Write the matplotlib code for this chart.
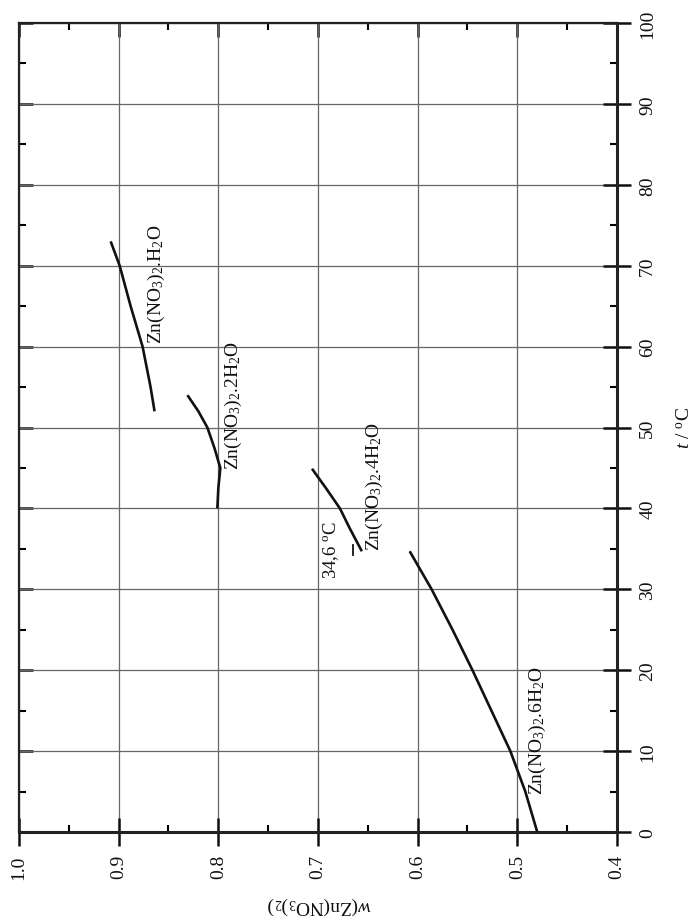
import matplotlib
matplotlib.use("Agg")
import matplotlib.pyplot as plt
from matplotlib.ticker import MultipleLocator

plt.rcParams['font.family'] = ['Liberation Serif', 'DejaVu Serif']
plt.rcParams['mathtext.fontset'] = 'custom'
plt.rcParams['mathtext.rm'] = 'Liberation Serif'
plt.rcParams['mathtext.it'] = 'Liberation Serif:italic'

# Data: w = mass fraction of Zn(NO3)2, t = temperature / °C
t_6h2o = [0, 5, 10, 15, 20, 25, 30, 34.7]
w_6h2o = [0.480, 0.492, 0.507, 0.526, 0.545, 0.565, 0.586, 0.608]

t_4h2o = [34.7, 37.5, 40, 42.5, 44.9]
w_4h2o = [0.656, 0.668, 0.678, 0.692, 0.706]

t_2h2o = [40, 42.5, 45, 47.5, 50, 52, 54]
w_2h2o = [0.801, 0.800, 0.798, 0.804, 0.811, 0.820, 0.831]

t_h2o = [52, 55, 60, 65, 70, 73]
w_h2o = [0.864, 0.868, 0.876, 0.888, 0.899, 0.908]

marker_w = [0.665, 0.665]
marker_t = [34.2, 35.5]

x_ticks = [1.0, 0.9, 0.8, 0.7, 0.6, 0.5, 0.4]
x_tick_labels = ['1.0', '0.9', '0.8', '0.7', '0.6', '0.5', '0.4']
y_ticks = [0, 10, 20, 30, 40, 50, 60, 70, 80, 90, 100]

labels = [
    (r'Zn(NO$_3$)$_2$.H$_2$O', 0.862, 67.8, 14),
    (r'Zn(NO$_3$)$_2$.2H$_2$O', 0.785, 52.9, 14),
    (r'Zn(NO$_3$)$_2$.4H$_2$O', 0.643, 42.8, 14),
    (r'Zn(NO$_3$)$_2$.6H$_2$O', 0.480, 12.7, 14),
    (r'34,6 $^{\rm o}$C', 0.687, 35.0, 13.5),
]

fig = plt.figure(figsize=(6.97, 9.20), dpi=100)
ax = fig.add_axes([19/697, 87/920, (617-19)/697, (833-24)/920])

for w, t in [(w_6h2o, t_6h2o), (w_4h2o, t_4h2o), (w_2h2o, t_2h2o), (w_h2o, t_h2o)]:
    ax.plot(w, t, color='#111111', lw=1.9, solid_capstyle='butt', zorder=3)
ax.plot(marker_w, marker_t, color='#111111', lw=1.3, zorder=3)

ax.set_xlim(1.0, 0.4)
ax.set_ylim(0, 100)
ax.set_xticks(x_ticks)
ax.set_xticklabels(x_tick_labels, rotation=90, fontsize=14)
ax.xaxis.set_minor_locator(MultipleLocator(0.05))
ax.set_yticks(y_ticks)
ax.yaxis.set_minor_locator(MultipleLocator(5))
ax.yaxis.tick_right()
ax.set_yticklabels([str(v) for v in y_ticks], rotation=90, va='center', fontsize=14)

ax.grid(True, which='major', color='#666666', lw=0.9)
ax.set_axisbelow(True)

ax.tick_params(which='major', direction='inout', length=20, width=1.8,
               top=False, left=False, bottom=True, right=True, pad=6, colors='#111111')
ax.tick_params(which='minor', direction='in', length=5, width=1.5,
               top=False, left=False, bottom=True, right=True)

# inward-only ticks on top and left
secx = ax.secondary_xaxis('top')
secx.set_xticks(x_ticks)
secx.xaxis.set_minor_locator(MultipleLocator(0.05))
secx.tick_params(which='major', direction='in', length=10, width=1.8, labeltop=False, colors='#111111')
secx.tick_params(which='minor', direction='in', length=5, width=1.5)
secy = ax.secondary_yaxis('left')
secy.set_yticks(y_ticks)
secy.yaxis.set_minor_locator(MultipleLocator(5))
secy.tick_params(which='major', direction='in', length=10, width=1.8, labelleft=False, colors='#111111')
secy.tick_params(which='minor', direction='in', length=5, width=1.5)
for sa in (secx, secy):
    for s in sa.spines.values():
        s.set_visible(False)

for s in ax.spines.values():
    s.set_linewidth(1.6)
    s.set_color('#222222')
ax.spines['bottom'].set_linewidth(2.2)
ax.spines['right'].set_linewidth(2.2)

for txt, w, t, fs in labels:
    ax.text(w, t, txt, rotation=90, ha='center', va='center', fontsize=fs, color='#111111')

fig.text(320/697, 1 - 906/920, r'$w$(Zn(NO$_3$)$_2$)', rotation=180,
         ha='center', va='center', fontsize=14, color='#111111')
fig.text(685/697, 1 - 428/920, r'$t$ / $^{\rm o}$C', rotation=90,
         ha='center', va='center', fontsize=14, color='#111111')

fig.savefig('out.png', dpi=100)
